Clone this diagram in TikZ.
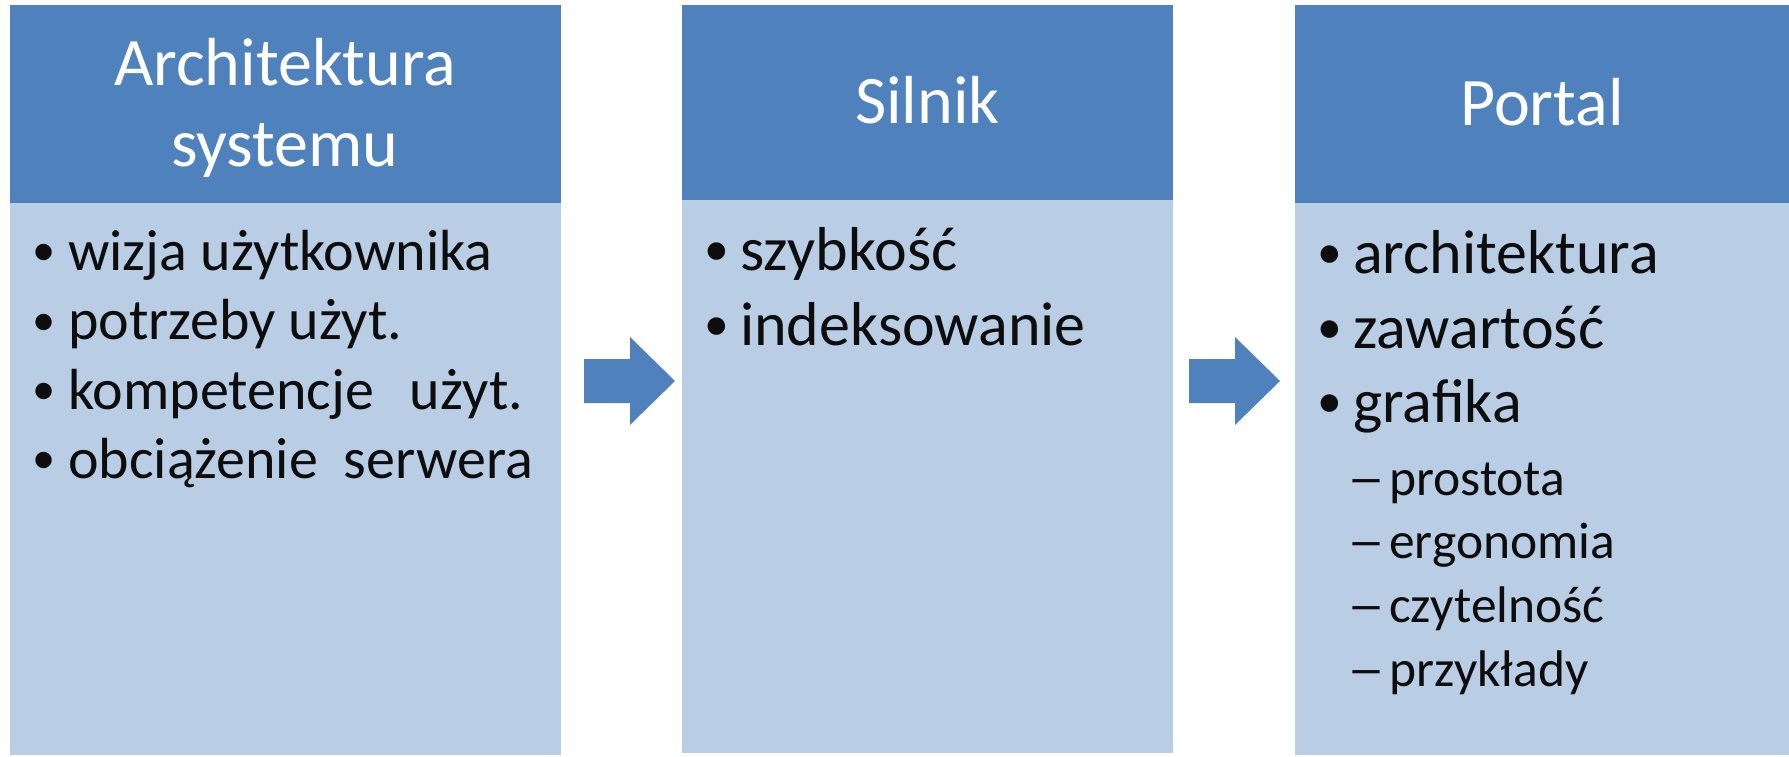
\documentclass[tikz,border=0pt]{standalone}
\usepackage{fontspec}
\setmainfont{Carlito}
\definecolor{hdr}{HTML}{4F81BD}
\definecolor{bdy}{HTML}{B9CDE5}
\definecolor{txt}{HTML}{0D0D0D}
\newcommand{\bul}[1]{\makebox[#1][l]{\raisebox{0.07em}{\scalebox{0.8}{•}}}}
\newcommand{\subdash}{\makebox[42pt][l]{\resizebox{38pt}{\height}{–}}}
\tikzset{
  hdrtext/.style={text=white, inner sep=0pt, anchor=base, font=\fontsize{68}{76}\selectfont},
  itemA/.style={text=txt, inner sep=0pt, anchor=base west, font=\fontsize{58}{70}\selectfont},
  itemB/.style={text=txt, inner sep=0pt, anchor=base west, font=\fontsize{62}{75}\selectfont},
  itemC/.style={text=txt, inner sep=0pt, anchor=base west, font=\fontsize{51.5}{64}\selectfont},
  blockarrow/.style={fill=hdr, draw=none}
}
\begin{document}
\begin{tikzpicture}[x=1pt,y=-1pt]
\useasboundingbox (0,0) rectangle (1789,757);
% boxes
\fill[bdy] (10,203) rectangle (561,755);
\fill[hdr] (10,5) rectangle (561,203);
\fill[bdy] (682,200) rectangle (1173,753);
\fill[hdr] (682,5) rectangle (1173,200);
\fill[bdy] (1295,203) rectangle (1789,755);
\fill[hdr] (1295,5) rectangle (1789,203);
% headers
\node[hdrtext] (h1a) at (285,86) {Architektura};
\node[hdrtext] (h1b) at (285,167) {systemu};
\node[hdrtext] (h2) at (927.5,124) {Silnik};
\node[hdrtext] (h3) at (1542,126) {Portal};
% column 1
\node[itemA] (a1) at (32,270) {\bul{36pt}wizja użytkownika};
\node[itemA] (a2) at (32,339.5) {\bul{36pt}potrzeby użyt.};
\node[itemA] (a3) at (32,409) {\bul{36pt}kompetencje\hspace{0.62em}użyt.};
\node[itemA] (a4) at (32,478) {\bul{36pt}obciążenie\hspace{0.45em}serwera};
% column 2
\node[itemB] (b1) at (704,270) {\bul{36pt}szybkość};
\node[itemB] (b2) at (704,345) {\bul{36pt}indeksowanie};
% column 3
\node[itemB] (c1) at (1317,273) {\bul{36pt}architektura};
\node[itemB] (c2) at (1317,348) {\bul{36pt}zawartość};
\node[itemB] (c3) at (1317,422) {\bul{36pt}grafika};
\node[itemC] (d1) at (1347,495) {\subdash prostota};
\node[itemC] (d2) at (1347,558) {\subdash ergonomia};
\node[itemC] (d3) at (1347,622) {\subdash czytelność};
\node[itemC] (d4) at (1347,686) {\subdash przykłady};
% block arrows
\fill[blockarrow] (584,359) -- (630,359) -- (630,337) -- (675,381) -- (630,425) -- (630,403) -- (584,403) -- cycle;
\fill[blockarrow] (1189,359) -- (1235,359) -- (1235,337) -- (1280,381) -- (1235,425) -- (1235,403) -- (1189,403) -- cycle;
\end{tikzpicture}
\end{document}
